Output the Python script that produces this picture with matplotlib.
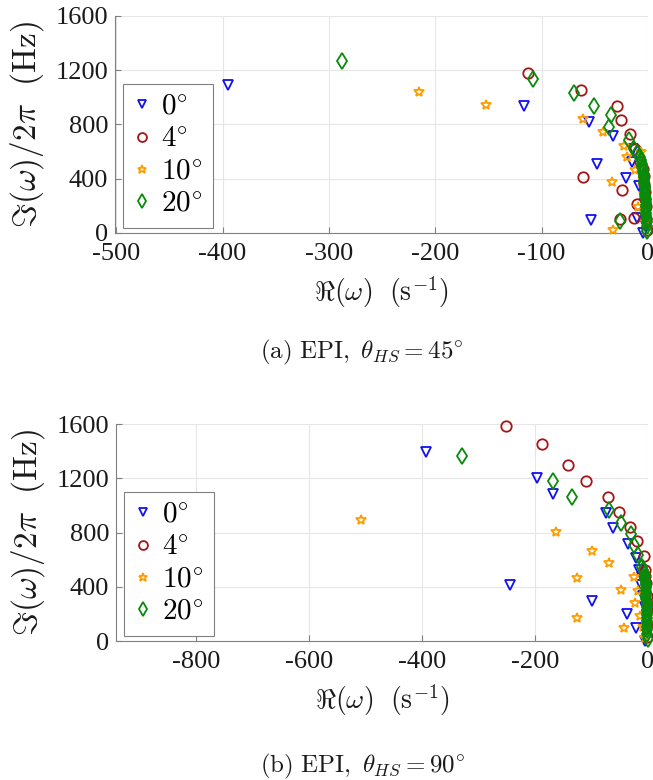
import matplotlib
matplotlib.use("Agg")
import matplotlib.pyplot as plt
from matplotlib.ticker import FuncFormatter, FixedLocator

plt.rcParams['mathtext.fontset'] = 'cm'
plt.rcParams['font.family'] = 'serif'
plt.rcParams['font.serif'] = ['Liberation Serif', 'DejaVu Serif']
plt.rcParams['axes.unicode_minus'] = False

# ---------------- data: theta_HS = 45 deg ----------------
a_re_0 = [-395, -116.5, -55.6, -32.7, -47.7, -20.7, -54, -14, -14.7, -8.6, -10.3, -4.4,
          -3, -2.5, -2, -1.5, -6, -4]
a_im_0 = [1088, 937, 815, 717, 510, 405, 95, 620, 521, 345, 108, 0,
          300, 220, 160, 50, 450, 380]

a_re_4 = [-112.5, -62.7, -29.5, -25.4, -17, -12.4, -7.5, -61.5, -24.5, -10, -12.9, -26.8,
          -5, -4, -3, -2, -1.5, -1, -3.5, -2.5]
a_im_4 = [1178, 1055, 940, 834, 731, 620, 527, 412, 319, 216, 110, 103,
          470, 420, 300, 200, 100, 20, 360, 250]

a_re_10 = [-215.7, -152.5, -61.5, -42, -22.6, -19.5, -33.9, -9.1, -33.3, -11.8,
           -6, -5, -4, -3, -2, -7]
a_im_10 = [1043, 943, 839, 741, 645, 557, 373, 191, 20, 462,
           500, 400, 290, 150, 80, 600]

a_re_20 = [-288, -108.6, -69.4, -50.6, -34.8, -36.4, -17.6, -12.9, -26.4,
           -10, -8, -7, -6, -5.5, -5, -4.5, -4.2, -4, -3.7, -3.5, -3.2, -3, -2.8, -2.6,
           -2.5, -2.3, -2.2, -2, -1.9, -1.8, -1.6, -1.5, -1.3, -1.2, -1, -0.8]
a_im_20 = [1271, 1134, 1031, 940, 871, 785, 687, 619, 86,
           590, 560, 535, 510, 490, 470, 450, 430, 410, 390, 370, 350, 330, 310, 290,
           270, 250, 230, 210, 190, 170, 150, 130, 105, 80, 50, 15]

# ---------------- data: theta_HS = 90 deg ----------------
b_re_0 = [-393, -244, -196.6, -168, -75, -62.6, -34.5, -20.5, -16, -13, -99.7, -37, -20.5,
          -8, -6, -5, -10]
b_im_0 = [1395, 413, 1204, 1082, 945, 830, 717, 615, 520, 413, 296, 198, 97,
          330, 250, 0, 470]

b_re_4 = [-251.5, -187.8, -142, -109, -71.5, -52, -31.3, -18.9, -7.7, -5.3, -3.5,
          -2, -1.5, -1, -1, -4.5, -2.5]
b_im_4 = [1588, 1450, 1298, 1180, 1062, 949, 843, 735, 629, 524, 430,
          330, 230, 120, 30, 480, 280]

b_re_10 = [-508, -162, -99, -68.5, -126, -48.5, -125.5, -43, -25, -17.1, -23.5, -13.5, -8, -5]
b_im_10 = [892, 806, 666, 573, 464, 376, 170, 95, 470, 371, 283, 182, 100, 20]

b_re_20 = [-330, -167.7, -134, -68.5, -47.8, -30, -24, -17, -11, -8, -6,
           -5, -4.5, -4, -3.7, -3.5, -3.3, -3, -2.8, -2.7, -2.5, -2.4, -2.3, -2.1, -2,
           -1.9, -1.8, -1.6, -1.5, -1.3, -1.2, -1, -0.8]
b_im_20 = [1364, 1182, 1064, 966, 872, 787, 708, 634, 548, 520, 495,
           470, 450, 430, 410, 390, 370, 350, 330, 310, 290, 270, 250, 230, 210,
           190, 170, 150, 130, 105, 80, 50, 15]

labels = [r'$0^{\circ}$', r'$4^{\circ}$', r'$10^{\circ}$', r'$20^{\circ}$']
colors = ['#1010f0', '#a51515', '#ff9c00', '#0a8a0a']
markers = ['v', 'o', '*', 'd']
msizes = [7.5, 7.5, 7.5, 8.2]

y_ticks = [0, 400, 800, 1200, 1600]
a_xticks = [-500, -400, -300, -200, -100, 0]
b_xticks = [-800, -600, -400, -200, 0]

panels = [
    dict(pos=[0.1762, 0.7013, 0.8162, 0.2782], xlim=(-501, 0), xticks=a_xticks,
         series=[(a_re_0, a_im_0), (a_re_4, a_im_4), (a_re_10, a_im_10), (a_re_20, a_im_20)],
         caption=r'$\mathrm{(a)\ EPI,}\ \theta_{HS} = 45^{\circ}$', cap_y=1 - 352 / 780),
    dict(pos=[0.1776, 0.1782, 0.8147, 0.2782], xlim=(-942, 0), xticks=b_xticks,
         series=[(b_re_0, b_im_0), (b_re_4, b_im_4), (b_re_10, b_im_10), (b_re_20, b_im_20)],
         caption=r'$\mathrm{(b)\ EPI,}\ \theta_{HS} = 90^{\circ}$', cap_y=1 - 766 / 780),
]

fig = plt.figure(figsize=(6.53, 7.80), dpi=100)
tick_fmt = FuncFormatter(lambda v, p: f'{int(round(v))}')

for pnl in panels:
    ax = fig.add_axes(pnl['pos'])
    for (re, im), lab, c, m, ms in zip(pnl['series'], labels, colors, markers, msizes):
        ax.plot(re, im, linestyle='none', marker=m, markersize=ms,
                markerfacecolor='none', markeredgecolor=c, markeredgewidth=1.3,
                label=lab, clip_on=False, zorder=3)
    ax.set_xlim(*pnl['xlim'])
    ax.set_ylim(0, 1600)
    ax.xaxis.set_major_locator(FixedLocator(pnl['xticks']))
    ax.yaxis.set_major_locator(FixedLocator(y_ticks))
    ax.xaxis.set_major_formatter(tick_fmt)
    ax.yaxis.set_major_formatter(tick_fmt)
    ax.grid(True, color='#e6e6e6', linewidth=0.8, zorder=0)
    ax.set_axisbelow(True)
    for s in ('top', 'right'):
        ax.spines[s].set_visible(False)
    for s in ('left', 'bottom'):
        ax.spines[s].set_color('#808080')
        ax.spines[s].set_linewidth(0.8)
    ax.tick_params(direction='in', length=4, width=0.8, color='#808080',
                   labelsize=19, labelcolor='#1a1a1a')
    ax.tick_params(axis='x', pad=7)
    ax.tick_params(axis='y', pad=5)
    ax.set_ylabel(r'$\Im(\omega)/2\pi\ \ (\mathrm{Hz})$', fontsize=24, color='#1a1a1a')
    ax.set_xlabel(r'$\Re(\omega)\ \ (\mathrm{s}^{-1})$', fontsize=20, color='#1a1a1a')
    ax.yaxis.set_label_coords(-0.13, 0.5)
    ax.xaxis.set_label_coords(0.5, -0.19)
    leg = ax.legend(loc='lower left', bbox_to_anchor=(0.015, 0.025), fontsize=21,
                    frameon=True, fancybox=False, framealpha=1, edgecolor='#808080',
                    handlelength=0.6, handletextpad=0.35, labelspacing=0.2,
                    borderpad=0.35, borderaxespad=0.0, markerscale=0.85)
    leg.get_frame().set_linewidth(0.8)
    fig.text(362 / 653, pnl['cap_y'], pnl['caption'], fontsize=18, ha='center',
             va='center', color='#1a1a1a')

fig.savefig('out.png', dpi=100)
